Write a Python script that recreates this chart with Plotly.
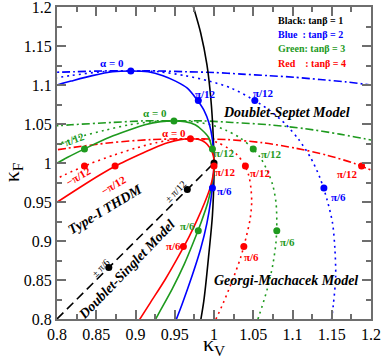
import plotly.graph_objects as go

BLACK = "#000000"
BLUE = "#0000ff"
GREEN = "#1e9a1e"
RED = "#ff0000"
FONT = "Liberation Serif"

# ---- Type-I THDM (solid) ----
thdm1_kv = [0.972, 0.983, 0.991, 0.996, 0.999, 1.000, 1.000, 0.998, 0.993, 0.987, 0.977]
thdm1_kf = [1.206, 1.167, 1.126, 1.082, 1.035, 1.000, 0.985, 0.933, 0.879, 0.823, 0.764]

thdm2_kv = [0.788, 0.800, 0.818, 0.845, 0.871, 0.894, 0.916, 0.935, 0.951, 0.966, 0.977,
            0.987, 0.994, 0.998, 1.000, 0.999, 0.996, 0.991, 0.983, 0.972, 0.959, 0.944]
thdm2_kf = [1.096, 1.100, 1.105, 1.112, 1.117, 1.118, 1.117, 1.112, 1.105, 1.096, 1.083,
            1.068, 1.050, 1.030, 1.000, 0.981, 0.953, 0.923, 0.890, 0.855, 0.818, 0.779]

thdm3_kv = [0.783, 0.813, 0.841, 0.867, 0.891, 0.912, 0.932, 0.949, 0.963, 0.976, 0.985,
            0.993, 0.997, 1.000, 1.000, 1.000, 0.997, 0.992, 0.984, 0.974, 0.962, 0.947,
            0.929, 0.910]
thdm3_kf = [0.990, 1.007, 1.021, 1.033, 1.042, 1.049, 1.053, 1.054, 1.053, 1.049, 1.042,
            1.033, 1.021, 1.007, 1.000, 0.990, 0.971, 0.949, 0.925, 0.899, 0.870, 0.839,
            0.806, 0.771]

thdm4_kv = [0.768, 0.799, 0.828, 0.855, 0.880, 0.903, 0.923, 0.941, 0.957, 0.970, 0.981,
            0.989, 0.995, 0.999, 1.000, 1.000, 0.999, 0.995, 0.988, 0.979, 0.968, 0.954,
            0.938, 0.919, 0.898]
thdm4_kf = [0.928, 0.949, 0.968, 0.985, 0.999, 1.010, 1.019, 1.026, 1.030, 1.031, 1.030,
            1.026, 1.019, 1.010, 1.003, 0.999, 0.985, 0.968, 0.949, 0.928, 0.905, 0.879,
            0.851, 0.821, 0.788]

# ---- Doublet-Singlet (dashed) ----
singlet_kv = [0.800, 1.000]
singlet_kf = [0.800, 1.000]

# ---- Georgi-Machacek (dotted) ----
gm2_kv = [0.775, 0.817, 0.857, 0.894, 0.930, 0.963, 0.994, 1.022, 1.047, 1.070, 1.091,
          1.108, 1.123, 1.135, 1.144, 1.151, 1.154, 1.155, 1.152, 1.147]
gm2_kf = [1.105, 1.112, 1.117, 1.118, 1.117, 1.112, 1.105, 1.096, 1.083, 1.068, 1.050,
          1.030, 1.007, 0.981, 0.953, 0.923, 0.890, 0.855, 0.818, 0.779]

gm3_kv = [0.791, 0.827, 0.861, 0.892, 0.922, 0.949, 0.973, 0.996, 1.015, 1.032, 1.047,
          1.059, 1.068, 1.075, 1.079, 1.080, 1.079, 1.075, 1.068, 1.058, 1.046]
gm3_kf = [1.021, 1.033, 1.042, 1.049, 1.053, 1.054, 1.053, 1.049, 1.042, 1.033, 1.021,
          1.007, 0.990, 0.971, 0.949, 0.925, 0.899, 0.870, 0.839, 0.806, 0.771]

gm4_kv = [0.776, 0.810, 0.842, 0.872, 0.900, 0.926, 0.949, 0.970, 0.989, 1.005, 1.018,
          1.030, 1.038, 1.044, 1.047, 1.048, 1.046, 1.041, 1.034, 1.024, 1.012, 0.997]
gm4_kf = [0.968, 0.985, 0.999, 1.010, 1.019, 1.026, 1.030, 1.031, 1.030, 1.026, 1.019,
          1.010, 0.999, 0.985, 0.968, 0.949, 0.928, 0.905, 0.879, 0.851, 0.821, 0.788]

# ---- Doublet-Septet (dash-dot) ----
sep2_kv = [0.786, 0.822, 0.858, 0.894, 0.930, 0.965, 1.000, 1.035, 1.069, 1.102, 1.135,
           1.168, 1.200, 1.232]
sep2_kf = [1.116, 1.117, 1.118, 1.118, 1.118, 1.117, 1.116, 1.114, 1.112, 1.110, 1.107,
           1.104, 1.100, 1.096]

sep3_kv = [0.791, 0.818, 0.871, 0.910, 0.949, 0.986, 1.023, 1.070, 1.116, 1.160, 1.202, 1.222]
sep3_kf = [1.047, 1.049, 1.052, 1.054, 1.054, 1.054, 1.052, 1.049, 1.044, 1.037, 1.029, 1.024]

sep4_kv = [0.781, 0.814, 0.868, 0.920, 0.970, 1.017, 1.062, 1.104, 1.144, 1.180, 1.214]
sep4_kf = [1.014, 1.019, 1.026, 1.030, 1.031, 1.030, 1.026, 1.019, 1.010, 0.999, 0.985]

# ---- marked alpha points ----
dots_black_kv = [1.000, 0.966, 0.866]
dots_black_kf = [1.000, 0.966, 0.866]
dots_blue_kv = [0.894, 0.980, 0.998, 1.052, 1.140]
dots_blue_kf = [1.118, 1.080, 0.968, 1.080, 0.968]
dots_green_kv = [0.949, 0.835, 0.998, 0.980, 1.050, 1.080]
dots_green_kf = [1.054, 1.018, 1.018, 0.913, 1.018, 0.913]
dots_red_kv = [0.970, 0.874, 1.000, 0.961, 0.835, 1.040, 1.038, 1.188]
dots_red_kf = [1.031, 0.996, 0.996, 0.893, 0.996, 0.996, 0.893, 0.996]

x_ticks = [0.8, 0.85, 0.9, 0.95, 1.0, 1.05, 1.1, 1.15, 1.2]
x_tick_text = ["0.8", "0.85", "0.9", "0.95", "1", "1.05", "1.1", "1.15", "1.2"]
y_ticks = [0.8, 0.85, 0.9, 0.95, 1.0, 1.05, 1.1, 1.15, 1.2]
y_tick_text = ["0.8", "0.85", "0.9", "0.95", "1", "1.05", "1.1", "1.15", "1.2"]

fig = go.Figure()


def add_line(x, y, color, dash="solid", width=1.6):
    fig.add_trace(go.Scatter(x=x, y=y, mode="lines",
                             line=dict(color=color, dash=dash, width=width, shape="spline", smoothing=0.8),
                             showlegend=False, hoverinfo="skip"))


for x, y, c in [(sep2_kv, sep2_kf, BLUE), (sep3_kv, sep3_kf, GREEN), (sep4_kv, sep4_kf, RED)]:
    add_line(x, y, c, dash="8px,3px,2px,3px")
for x, y, c in [(gm2_kv, gm2_kf, BLUE), (gm3_kv, gm3_kf, GREEN), (gm4_kv, gm4_kf, RED)]:
    add_line(x, y, c, dash="2px,4px")
add_line(singlet_kv, singlet_kf, BLACK, dash="9px,5px")
for x, y, c in [(thdm1_kv, thdm1_kf, BLACK), (thdm2_kv, thdm2_kf, BLUE),
                (thdm3_kv, thdm3_kf, GREEN), (thdm4_kv, thdm4_kf, RED)]:
    add_line(x, y, c)

for x, y, c in [(dots_black_kv, dots_black_kf, BLACK), (dots_blue_kv, dots_blue_kf, BLUE),
                (dots_green_kv, dots_green_kf, GREEN), (dots_red_kv, dots_red_kf, RED)]:
    fig.add_trace(go.Scatter(x=x, y=y, mode="markers", marker=dict(color=c, size=7),
                             showlegend=False, hoverinfo="skip", cliponaxis=False))

ann = []


def label(x, y, text, color, size=11, angle=0, xanchor="center"):
    ann.append(dict(x=x, y=y, text=text, showarrow=False, textangle=angle, xanchor=xanchor,
                    font=dict(family=FONT, size=size, color=color)))


# alpha labels
label(0.870, 1.128, "<b>α = 0</b>", BLUE)
label(0.925, 1.064, "<b>α = 0</b>", GREEN)
label(0.949, 1.039, "<b>α = 0</b>", RED)
label(0.989, 1.089, "<b>π/12</b>", BLUE)
label(1.063, 1.090, "<b>π/12</b>", BLUE)
label(0.819, 1.029, "<b>−π/12</b>", GREEN, angle=-20)
label(0.828, 0.983, "<b>−π/12</b>", RED, angle=-30)
label(0.872, 0.972, "<b>−π/12</b>", RED, angle=-30)
label(1.014, 1.013, "<b>π/12</b>", GREEN)
label(1.015, 0.988, "<b>π/12</b>", RED)
label(1.014, 0.964, "<b>π/6</b>", BLUE)
label(0.966, 0.919, "<b>π/6</b>", GREEN)
label(0.948, 0.893, "<b>π/6</b>", RED)
label(1.073, 1.011, "<b>π/12</b>", GREEN)
label(1.059, 0.987, "<b>π/12</b>", RED)
label(1.170, 0.986, "<b>π/12</b>", RED)
label(1.158, 0.956, "<b>π/6</b>", BLUE)
label(1.094, 0.899, "<b>π/6</b>", GREEN)
label(1.048, 0.880, "<b>π/6</b>", RED)
label(0.951, 0.963, "± π/12", BLACK, size=10, angle=-45)
label(0.856, 0.866, "± π/6", BLACK, size=10, angle=-45)

# model names
label(1.092, 1.065, "<b><i>Doublet-Septet Model</i></b>", BLACK, size=14)
label(0.861, 0.941, "<b><i>Type-I THDM</i></b>", BLACK, size=14, angle=-31)
label(0.889, 0.863, "<b><i>Doublet-Singlet Model</i></b>", BLACK, size=14, angle=-46)
label(1.092, 0.849, "<b><i>Georgi-Machacek Model</i></b>", BLACK, size=14)

# legend block
label(1.079, 1.183, "<b>Black: tanβ = 1</b>", BLACK, size=10, xanchor="left")
label(1.079, 1.165, "<b>Blue  : tanβ = 2</b>", BLUE, size=10, xanchor="left")
label(1.079, 1.147, "<b>Green: tanβ = 3</b>", GREEN, size=10, xanchor="left")
label(1.079, 1.128, "<b>Red    : tanβ = 4</b>", RED, size=10, xanchor="left")

# axis titles
ann.append(dict(x=0.5, y=0, xref="paper", yref="paper", yshift=-26, yanchor="middle",
                text="κ<sub>V</sub>", showarrow=False, font=dict(family=FONT, size=22, color=BLACK)))
ann.append(dict(x=0, y=0.47, xref="paper", yref="paper", xshift=-44, xanchor="center",
                text="κ<sub>F</sub>", textangle=-90, showarrow=False,
                font=dict(family=FONT, size=22, color=BLACK)))

axis_common = dict(
    showgrid=False, zeroline=False, showline=True, linecolor="#6e6e6e", linewidth=2,
    mirror="ticks", ticks="inside", ticklen=9, tickwidth=1.5, tickcolor="#6e6e6e",
    tickfont=dict(family=FONT, size=16, color=BLACK), automargin=False,
    ticklabeloverflow="allow",
    minor=dict(ticks="inside", ticklen=5, tickwidth=1.5, tickcolor="#6e6e6e", dtick=0.025),
)

fig.update_layout(
    width=382, height=362,
    margin=dict(l=57, r=11, t=7, b=43),
    paper_bgcolor="white", plot_bgcolor="white",
    annotations=ann,
    xaxis=dict(range=[0.8, 1.2], tickvals=x_ticks, ticktext=x_tick_text, **axis_common),
    yaxis=dict(range=[0.8, 1.2], tickvals=y_ticks, ticktext=y_tick_text, **axis_common),
)

# the page's default body margin would shift the figure by 8px
fig.write_html("out.html", config={"displayModeBar": False},
               post_script="document.body.style.margin='0px';")
